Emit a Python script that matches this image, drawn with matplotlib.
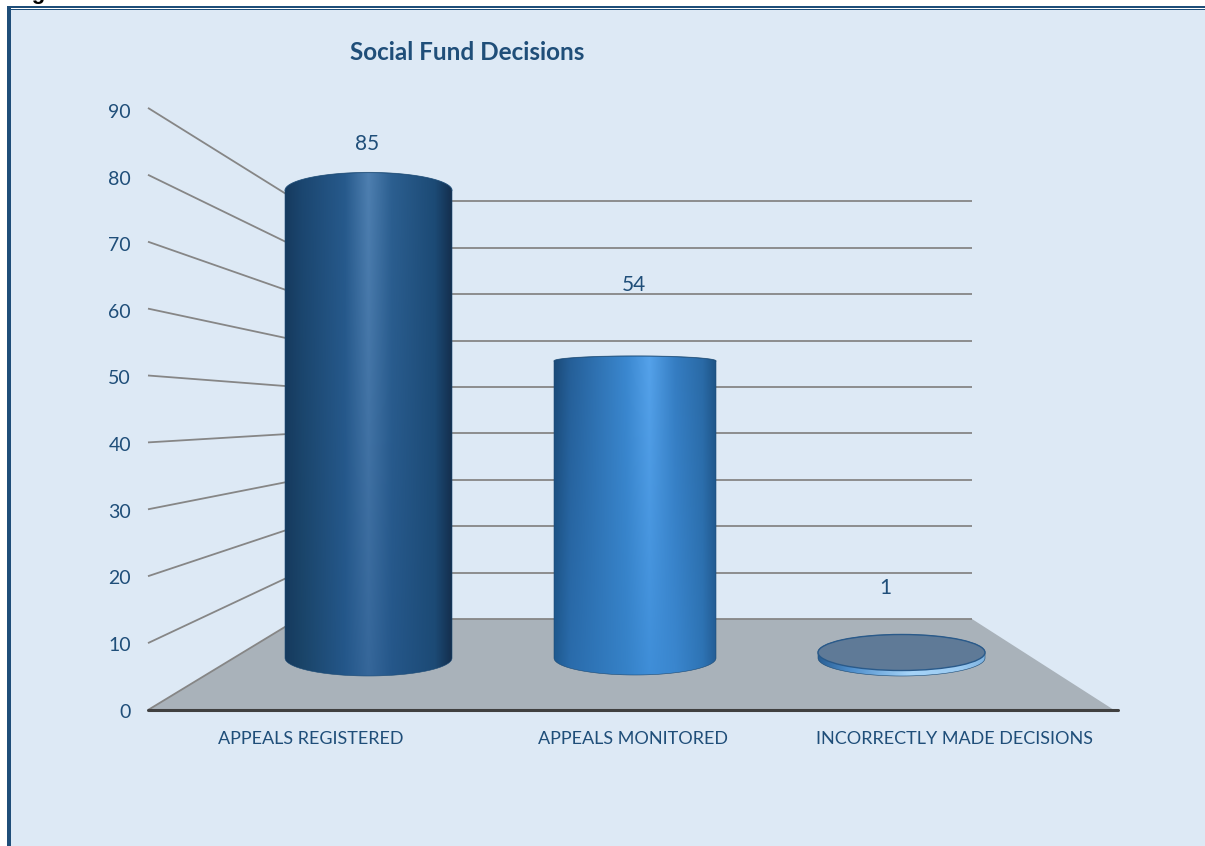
import matplotlib

matplotlib.use("Agg")
import matplotlib.pyplot as plt
import numpy as np
from matplotlib.colors import to_rgb
from matplotlib.patches import Ellipse, PathPatch, Polygon, Rectangle
from matplotlib.path import Path

categories = ["APPEALS REGISTERED", "APPEALS MONITORED", "INCORRECTLY MADE DECISIONS"]
values = [85, 54, 1]
value_ticks = [0, 10, 20, 30, 40, 50, 60, 70, 80, 90]
chart_title = "Social Fund Decisions"

W, H = 1205, 846
TEXT = "#1F4E79"
GRID = "#868686"
FONT = ["Lato", "DejaVu Sans"]

# perspective box, in pixels
FRONT_X, BACK_L, BACK_R, FRONT_R = 148, 298, 972, 1118
FRONT_0, FRONT_PER_UNIT = 710, 6.69
BACK_0, BACK_PER_UNIT = 619, 4.64

# cylinder shape, in pixels
half_widths = [83.5, 81, 83.5]
top_caps = [18, 5, 18]
base_caps = [18, 17, 18]
PX_PER_VALUE = 5.5
PX_PER_CAT = 266.5

label_offsets = [(-1.5, 47), (-1, 76), (-16, 64)]
cat_label_x = [311, 633, 954]

# colour across the cylinder: (position, colour at top, colour at base)
shades = [
    [(0.0, "#163A5E", "#163A5E"), (0.1, "#1B4670", "#1A4468"), (0.36, "#275A8C", "#24578A"),
     (0.5, "#4E7FB0", "#36679A"), (0.64, "#2C5F90", "#25578A"), (0.9, "#1C4A75", "#1C4A75"),
     (1.0, "#142F4E", "#142F4E")],
    [(0.0, "#1B4A78", "#1F5A90"), (0.1, "#255F98", "#2A6CAC"), (0.45, "#3B88D0", "#3682C8"),
     (0.59, "#55A2EA", "#3F8ED8"), (0.75, "#357DC2", "#3A86CE"), (0.92, "#2A6AA6", "#2E74B5"),
     (1.0, "#1E5486", "#255F98")],
    [(0.0, "#2A5F94", "#2A5F94"), (0.2, "#4F8FCC", "#4F8FCC"), (0.55, "#A6D4F8", "#A6D4F8"),
     (0.85, "#9CCBF2", "#9CCBF2"), (1.0, "#7FB3E0", "#7FB3E0")],
]


def front_y(v):
    return FRONT_0 - FRONT_PER_UNIT * v


def back_y(v):
    return BACK_0 - BACK_PER_UNIT * v


def shade_image(stops, nx=200, ny=60):
    pos = [s[0] for s in stops]
    top = np.array([to_rgb(s[1]) for s in stops])
    base = np.array([to_rgb(s[2]) for s in stops])
    xs = np.linspace(0, 1, nx)
    t = np.linspace(0, 1, ny)[:, None, None]
    top_row = np.stack([np.interp(xs, pos, top[:, c]) for c in range(3)], axis=1)[None]
    base_row = np.stack([np.interp(xs, pos, base[:, c]) for c in range(3)], axis=1)[None]
    return top_row * (1 - t) + base_row * t


def draw_cylinder(ax, i, v, stops, hw, top_cap, base_cap):
    # silhouette: dome over the top, rounded base below
    th = np.linspace(0, np.pi, 80)
    top_x = i - hw * np.cos(th)
    top_y = v + top_cap * np.sin(th)
    base_x = i + hw * np.cos(th)
    base_y = -base_cap * np.sin(th)
    verts = np.column_stack([np.r_[top_x, base_x], np.r_[top_y, base_y]])
    path = Path(np.vstack([verts, verts[0]]), closed=True)
    patch = PathPatch(path, facecolor="none", edgecolor="#1B4A75", lw=0.4, zorder=4)
    ax.add_patch(patch)
    im = ax.imshow(
        shade_image(stops),
        extent=(i - hw, i + hw, -base_cap, v + top_cap),
        origin="upper",
        aspect="auto",
        interpolation="bilinear",
        zorder=3,
    )
    im.set_clip_path(patch)
    return top_y


fig = plt.figure(figsize=(W / 100, H / 100), dpi=100, facecolor="white")

# page-level layer with pixel coordinates for the box, frame and axis text
ax_px = fig.add_axes([0, 0, 1, 1])
ax_px.set_xlim(0, W)
ax_px.set_ylim(H, 0)
ax_px.axis("off")

ax_px.add_patch(Rectangle((7, 6), W, H, facecolor="#DDE9F5", edgecolor="none", zorder=0))
ax_px.add_patch(Rectangle((7, 6), W, 2.2, facecolor=TEXT, edgecolor="none", zorder=1))
ax_px.add_patch(Rectangle((9, 8.2), W, 1, facecolor="white", edgecolor="none", zorder=1))
ax_px.add_patch(Rectangle((11, 9.2), W, 1.3, facecolor=TEXT, edgecolor="none", zorder=1))
ax_px.add_patch(Rectangle((7, 6), 4, H, facecolor=TEXT, edgecolor="none", zorder=1))
ax_px.text(13, -1, "Figure", family=["Liberation Sans"], fontweight="bold", fontsize=16,
           color="black", va="baseline", ha="left", clip_on=False)

# floor
ax_px.add_patch(Polygon(
    [(FRONT_X, FRONT_0), (BACK_L, BACK_0), (BACK_R, BACK_0), (FRONT_R - 4, FRONT_0)],
    closed=True, facecolor="#A9B2BA", edgecolor="none", zorder=1))

# walls
for v in value_ticks:
    ax_px.plot([FRONT_X, BACK_L], [front_y(v), back_y(v)], color=GRID, lw=1.3,
               solid_capstyle="butt", zorder=2)
    ax_px.plot([BACK_L, BACK_R], [back_y(v), back_y(v)], color=GRID, lw=1.3,
               solid_capstyle="butt", zorder=2)
    ax_px.text(131, 712 - 6.66 * v, str(v), color=TEXT, ha="right", va="center",
               fontsize=14, family=FONT, zorder=5)

# front axis line
ax_px.plot([FRONT_X, FRONT_R], [FRONT_0, FRONT_0], color="#404040", lw=2.2,
           solid_capstyle="round", zorder=2)

for x, name in zip(cat_label_x, categories):
    ax_px.text(x, 739, name, color=TEXT, ha="center", va="center", fontsize=13,
               family=FONT, zorder=5)

ax_px.text(467.5, 53, chart_title, color=TEXT, ha="center", va="center", fontsize=17.5,
           fontweight="bold", family=FONT, zorder=5)

# value layer: categories along x and values along y, on the mid-depth plane
y_lo, y_hi = -10, 100
left_px = 368.5 - PX_PER_CAT
bottom_px = 658 - y_lo * PX_PER_VALUE
ax_bar = fig.add_axes([
    left_px / W,
    (H - bottom_px) / H,
    4 * PX_PER_CAT / W,
    (y_hi - y_lo) * PX_PER_VALUE / H,
])
ax_bar.patch.set_alpha(0)
ax_bar.axis("off")

for i, v in enumerate(values):
    hw = half_widths[i] / PX_PER_CAT
    top_cap = top_caps[i] / PX_PER_VALUE
    base_cap = base_caps[i] / PX_PER_VALUE
    top_y = draw_cylinder(ax_bar, i, v, shades[i], hw, top_cap, base_cap)
    if v < 5:
        # a very short cylinder shows its flat top face
        ax_bar.add_patch(Ellipse((i, v), 2 * hw, 2 * top_cap, facecolor="#5F7A97",
                                 edgecolor="#2A5A8A", lw=1.0, zorder=5))
    else:
        # darker rim along the far edge of the cap
        ax_bar.plot(i - hw * np.cos(np.linspace(0, np.pi, 80)), top_y, color="#1B4A75",
                    lw=0.8, alpha=0.5, zorder=5)
    dx, dy = label_offsets[i]
    ax_bar.annotate(str(v), xy=(i, v), xytext=(dx * 0.72, dy * 0.72),
                    textcoords="offset points", color=TEXT, ha="center", va="center",
                    fontsize=15, family=FONT, zorder=6)

ax_bar.set_xlim(-1, 3)
ax_bar.set_ylim(y_lo, y_hi)

fig.savefig("out.png", dpi=100)
